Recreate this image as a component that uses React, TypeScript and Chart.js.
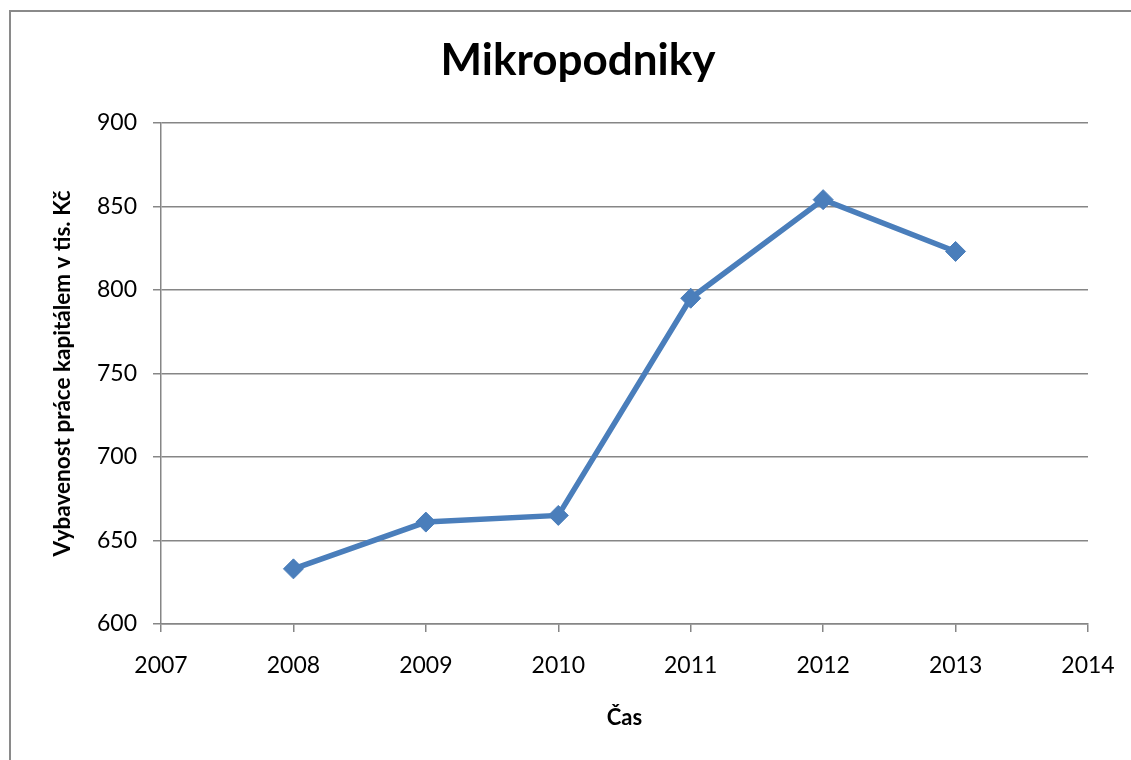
import React, { useEffect, useRef } from "react";
import { Chart, registerables } from "chart.js";

Chart.register(...registerables);

const years = [2008, 2009, 2010, 2011, 2012, 2013];
const values = [633, 661, 665, 795, 854, 823];
const xMin = 2007;
const xMax = 2014;
const yMin = 600;
const yMax = 900;
const yStep = 50;
const titleText = "Mikropodniky";
const yTitle = "Vybavenost práce kapitálem v tis. Kč";
const xTitle = "Čas";

const FONT = "Lato, 'Open Sans', sans-serif";
const GRID = "#868686";

const frame = {
  id: "frame",
  beforeDraw(chart: any) {
    const ctx = chart.ctx;
    ctx.save();
    ctx.fillStyle = "#ffffff";
    ctx.fillRect(0, 0, chart.width, chart.height);
    ctx.strokeStyle = "#8a8a8a";
    ctx.lineWidth = 2;
    ctx.beginPath();
    ctx.moveTo(10, chart.height + 5);
    ctx.lineTo(10, 11);
    ctx.lineTo(chart.width + 5, 11);
    ctx.stroke();
    ctx.restore();
  },
};

export default function App() {
  const ref = useRef<HTMLCanvasElement>(null);
  useEffect(() => {
    if (!ref.current) return;
    const chart = new Chart(ref.current, {
      type: "line",
      data: {
        datasets: [
          {
            data: years.map((y, i) => ({ x: y, y: values[i] })),
            borderColor: "#4A7EBB",
            backgroundColor: "#4A7EBB",
            borderWidth: 5.5,
            pointStyle: "rectRot",
            pointRadius: 10,
            pointBorderWidth: 1,
            pointBackgroundColor: "#4A7EBB",
            pointBorderColor: "#4A7EBB",
            tension: 0,
          },
        ],
      },
      options: {
        animation: false,
        responsive: false,
        devicePixelRatio: 1,
        layout: { padding: { left: 0, right: 0, top: 0, bottom: 0 } },
        plugins: {
          legend: { display: false },
          tooltip: { enabled: false },
          title: {
            display: true,
            text: titleText,
            color: "#000",
            font: { family: FONT, size: 44, weight: "bold", lineHeight: 1.2 },
            padding: { top: 34, bottom: 36 },
          },
        },
        scales: {
          x: {
            type: "linear",
            min: xMin,
            max: xMax,
            afterFit(scale: any) {
              scale.height = 136;
            },
            ticks: {
              stepSize: 1,
              color: "#000",
              font: { family: FONT, size: 23 },
              padding: 20,
              callback: (v: any) => String(v),
              maxRotation: 0,
            },
            grid: {
              drawOnChartArea: false,
              drawTicks: true,
              tickLength: 8,
              color: GRID,
              lineWidth: 1.5,
            },
            border: { display: true, color: GRID, width: 1.5 },
            title: {
              display: true,
              text: xTitle,
              color: "#000",
              font: { family: FONT, size: 22, weight: "bold", lineHeight: 1.2 },
              padding: { top: 0, bottom: 29 },
            },
          },
          y: {
            min: yMin,
            max: yMax,
            afterFit(scale: any) {
              scale.width = 161;
            },
            ticks: {
              stepSize: yStep,
              color: "#000",
              font: { family: FONT, size: 23 },
              padding: 16,
            },
            grid: {
              color: GRID,
              lineWidth: 1.5,
              tickLength: 8,
            },
            border: { display: true, color: GRID, width: 1.5 },
            title: {
              display: true,
              text: yTitle,
              color: "#000",
              font: { family: FONT, size: 22.5, weight: "bold", lineHeight: 1.2 },
              padding: { top: 49, bottom: 0 },
            },
          },
          spacer: {
            type: "linear",
            position: "right",
            display: true,
            afterFit(scale: any) {
              scale.width = 68;
            },
            ticks: { display: false },
            grid: { display: false, drawTicks: false },
            border: { display: false },
          },
        },
      },
      plugins: [frame],
    });
    return () => chart.destroy();
  }, []);

  return (
    <div
      style={{
        position: "fixed",
        left: 0,
        top: 0,
        width: 1131,
        height: 760,
        overflow: "hidden",
        background: "#fff",
      }}
    >
      <canvas ref={ref} width={1156} height={760} style={{ display: "block" }} />
    </div>
  );
}
